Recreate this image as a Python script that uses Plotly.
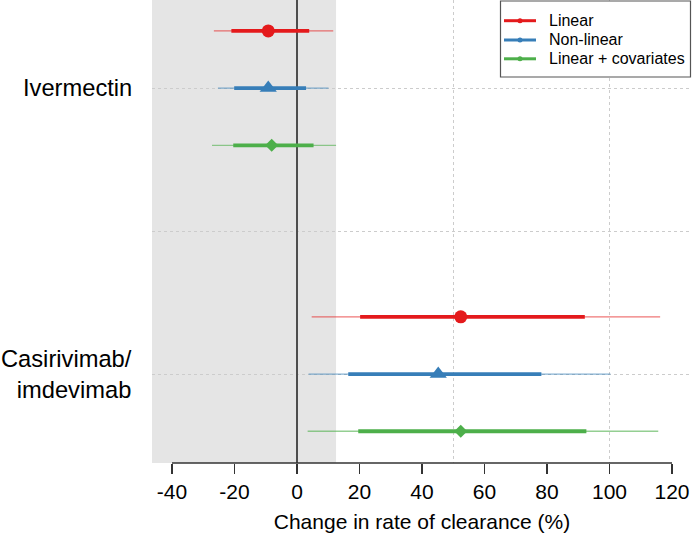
import plotly.graph_objects as go

# ---- data ----
drugs = ["Ivermectin", "Casirivimab/<br>imdevimab"]
drug_pos = [2, 1]
methods = ["Linear", "Non-linear", "Linear + covariates"]
offsets = [0.2, 0.0, -0.2]
colors = ["#E41A1C", "#377EB8", "#4DAF4A"]
thin_colors = ["rgba(228,26,28,0.6)", "rgba(55,126,184,0.6)", "rgba(77,175,74,0.6)"]
symbols = ["circle", "triangle-up", "diamond"]
sizes = [13, 15, 10]

estimate = {
    "Linear": [-9.2, 52.4],
    "Non-linear": [-9.2, 45.2],
    "Linear + covariates": [-8.1, 52.4],
}
ci80_low = {
    "Linear": [-21.0, 20.2],
    "Non-linear": [-20.1, 16.4],
    "Linear + covariates": [-20.4, 19.6],
}
ci80_high = {
    "Linear": [3.9, 92.1],
    "Non-linear": [2.9, 78.2],
    "Linear + covariates": [5.3, 92.6],
}
ci95_low = {
    "Linear": [-26.6, 4.7],
    "Non-linear": [-25.3, 3.7],
    "Linear + covariates": [-27.2, 3.4],
}
ci95_high = {
    "Linear": [11.6, 116.2],
    "Non-linear": [10.1, 100.3],
    "Linear + covariates": [12.5, 115.6],
}
x_ticks = [-40, -20, 0, 20, 40, 60, 80, 100, 120]
x_ticktext = ["-40", "-20", "0", "20", "40", "60", "80", "100", "120"]
shade_upper = 12.5

FONT = "Liberation Sans, Arial, sans-serif"

W, H = 693, 541
ML, MR, MT, MB = 152, 1, 0, 78
PW, PH = W - ML - MR, H - MT - MB


def px(xp):
    return (xp - ML) / PW


def py(yp):
    return 1 - (yp - MT) / PH


fig = go.Figure()

for m, off, col, tcol, sym, sz in zip(methods, offsets, colors, thin_colors, symbols, sizes):
    ys = [p + off for p in drug_pos]
    xt, yt = [], []
    for lo, hi, y in zip(ci95_low[m], ci95_high[m], ys):
        xt += [lo, hi, None]
        yt += [y, y, None]
    fig.add_trace(go.Scatter(x=xt, y=yt, mode="lines", line=dict(color=tcol, width=1.3),
                             showlegend=False, hoverinfo="skip"))
    xk, yk = [], []
    for lo, hi, y in zip(ci80_low[m], ci80_high[m], ys):
        xk += [lo, hi, None]
        yk += [y, y, None]
    fig.add_trace(go.Scatter(x=xk, y=yk, mode="lines", line=dict(color=col, width=3.8),
                             showlegend=False, hoverinfo="skip"))
    fig.add_trace(go.Scatter(x=estimate[m], y=ys, mode="markers",
                             marker=dict(color=col, symbol=sym, size=sz, line=dict(width=0)),
                             showlegend=False))

x_range = [-46.4, 126.4]

shapes = [
    dict(type="rect", xref="x", yref="paper", x0=x_range[0], x1=shade_upper, y0=0, y1=1,
         fillcolor="#E5E5E5", line=dict(width=0), layer="below"),
    dict(type="line", xref="x", yref="paper", x0=x_ticks[0], x1=x_ticks[-1], y0=0, y1=0,
         line=dict(color="#333333", width=1.3)),
    # legend box
    dict(type="rect", xref="paper", yref="paper", x0=px(500.5), x1=px(690.5), y0=py(1), y1=py(77),
         fillcolor="white", line=dict(color="#555555", width=1.2), layer="above"),
]
annotations = []
leg_y = [20.7, 40, 58.8]
for m, col, yl in zip(methods, colors, leg_y):
    shapes.append(dict(type="line", xref="paper", yref="paper", x0=px(504), x1=px(536),
                       y0=py(yl), y1=py(yl), line=dict(color=col, width=3), layer="above"))
    shapes.append(dict(type="circle", xref="paper", yref="paper", x0=px(517.5), x1=px(522.5),
                       y0=py(yl - 2.5), y1=py(yl + 2.5), fillcolor=col, line=dict(width=0),
                       layer="above"))
    annotations.append(dict(x=px(547), y=py(yl), xref="paper", yref="paper", text=m,
                            showarrow=False, xanchor="left", yanchor="middle",
                            font=dict(size=16, family=FONT, color="black")))

for d, p in zip(drugs, drug_pos):
    annotations.append(dict(x=px(134), xref="paper", y=p, yref="y", text=d, showarrow=False,
                            xanchor="right", yanchor="middle", align="right",
                            font=dict(size=23.7, family=FONT, color="black")))

fig.update_layout(
    width=W, height=H,
    margin=dict(l=ML, r=MR, t=MT, b=MB),
    plot_bgcolor="white", paper_bgcolor="white",
    font=dict(family=FONT, color="black"),
    showlegend=False,
    hovermode=False,
    shapes=shapes,
    annotations=annotations,
    xaxis=dict(range=x_range, tickvals=x_ticks, ticktext=x_ticktext, automargin=False,
               ticks="outside", ticklen=10, tickwidth=1.3, tickcolor="#333333",
               tickfont=dict(size=21), showgrid=False, showline=False,
               zeroline=True, zerolinecolor="#4D4D4D", zerolinewidth=1.8,
               minor=dict(tickvals=[0, 50, 100], showgrid=True, gridcolor="#CCCCCC",
                          griddash="dot", gridwidth=1, ticks=""),
               title=dict(text="Change in rate of clearance (%)", font=dict(size=21), standoff=12)),
    yaxis=dict(range=[0.689, 2.308], tickvals=[1, 1.5, 2], showticklabels=False, automargin=False,
               showgrid=True, gridcolor="#CCCCCC", griddash="dot", gridwidth=1,
               zeroline=False, showline=False, ticks=""),
)

fig.write_html("out.html", config={"displayModeBar": False, "staticPlot": True},
               post_script="document.body.style.margin='0px';document.body.style.padding='0px';")
